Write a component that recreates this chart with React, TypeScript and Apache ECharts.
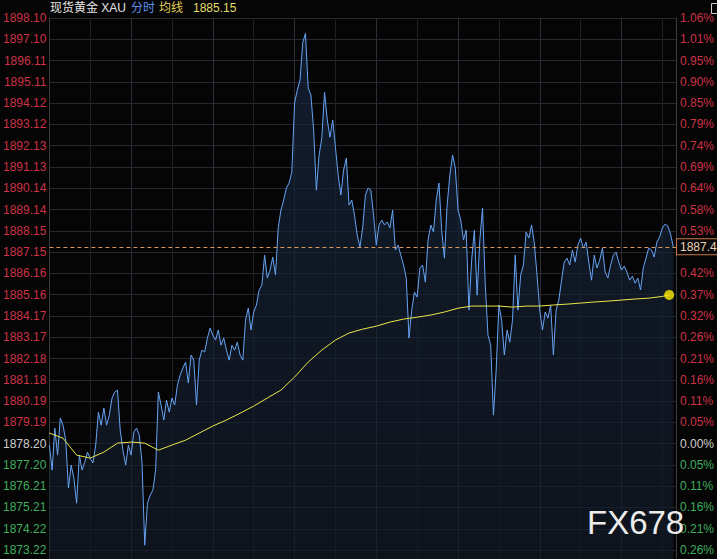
import React, { useEffect, useRef } from "react";
import * as echarts from "echarts";

// ---- tick labels ----
const leftLabels = [
  "1898.10", "1897.10", "1896.11", "1895.11", "1894.12", "1893.12", "1892.13",
  "1891.13", "1890.14", "1889.14", "1888.15", "1887.15", "1886.16", "1885.16",
  "1884.17", "1883.17", "1882.18", "1881.18", "1880.19", "1879.19", "1878.20",
  "1877.20", "1876.21", "1875.21", "1874.22", "1873.22",
];
const rightLabels = [
  "1.06%", "1.01%", "0.95%", "0.90%", "0.85%", "0.79%", "0.74%", "0.69%",
  "0.64%", "0.58%", "0.53%", "0.48%", "0.42%", "0.37%", "0.32%", "0.26%",
  "0.21%", "0.16%", "0.11%", "0.05%", "0.00%", "0.05%", "0.11%", "0.16%",
  "0.21%", "0.26%",
];
const baseIndex = 20; // 1878.20 = previous close
const priceTop = 1898.1;
const priceBottomLabel = 1873.22;

// ---- time axis (minutes from session open) ----
const sessionMinutes = 1380;
const gridMinutes = 90;
const priceStepMinutes = 6;
const avgStepMinutes = 30;
const avgEndMinute = 1365;

// ---- series values ----
const prices = [
  1878.13, 1876.96, 1878.92, 1877.66, 1879.39, 1879.06, 1878.36, 1876.12, 1877.19, 1876.58,
  1875.41, 1877.66, 1876.96, 1877.33, 1877.80, 1877.52, 1877.29, 1878.13, 1879.67, 1879.06,
  1879.86, 1879.06, 1879.53, 1880.33, 1880.61, 1880.70, 1878.83, 1877.89, 1877.19, 1878.13,
  1877.66, 1878.74, 1878.92, 1878.60, 1877.33, 1873.45, 1875.41, 1875.79, 1876.02, 1876.96,
  1880.61, 1880.00, 1879.30, 1880.23, 1879.67, 1880.33, 1880.00, 1880.93, 1881.40, 1881.73,
  1882.01, 1881.03, 1882.34, 1882.10, 1880.00, 1882.10, 1882.57, 1882.48, 1883.13, 1883.60,
  1883.27, 1883.04, 1883.51, 1882.80, 1883.13, 1882.57, 1882.10, 1882.80, 1882.57, 1882.94,
  1882.34, 1882.10, 1883.97, 1884.53, 1883.51, 1884.35, 1884.68, 1885.38, 1885.61, 1887.01,
  1885.94, 1886.31, 1886.92, 1886.08, 1888.28, 1889.12, 1889.59, 1890.15, 1890.38, 1890.90,
  1894.12, 1894.73, 1895.20, 1896.95, 1897.38, 1894.82, 1894.50, 1892.86, 1890.05, 1891.69,
  1892.49, 1894.64, 1893.33, 1892.53, 1893.33, 1892.06, 1890.76, 1889.82, 1890.99, 1891.55,
  1889.35, 1889.59, 1888.88, 1887.95, 1887.39, 1888.28, 1889.82, 1890.15, 1890.05, 1888.88,
  1887.48, 1888.42, 1888.65, 1888.42, 1888.56, 1888.28, 1889.12, 1887.25, 1887.48, 1887.01,
  1886.55, 1885.94, 1883.13, 1884.44, 1885.28, 1885.05, 1886.41, 1886.55, 1885.75, 1887.72,
  1888.42, 1888.09, 1889.59, 1890.38, 1888.18, 1886.87, 1889.35, 1890.76, 1891.69, 1891.08,
  1889.12, 1888.65, 1887.72, 1888.18, 1884.44, 1886.78, 1888.18, 1885.14, 1887.72, 1889.21,
  1885.61, 1883.27, 1882.80, 1879.53, 1881.64, 1884.68, 1883.97, 1882.34, 1883.51, 1882.94,
  1883.97, 1887.01, 1884.44, 1886.08, 1886.55, 1888.09, 1887.81, 1888.42, 1887.57, 1886.08,
  1884.44, 1883.51, 1884.35, 1884.07, 1884.68, 1882.34, 1884.44, 1884.91, 1885.84, 1886.69,
  1886.87, 1886.55, 1887.25, 1886.69, 1887.48, 1887.81, 1887.34, 1887.62, 1886.69, 1885.84,
  1887.01, 1886.41, 1886.78, 1887.34, 1886.22, 1885.94, 1886.55, 1887.01, 1887.15, 1886.69,
  1886.31, 1886.50, 1886.22, 1885.84, 1886.03, 1885.70, 1885.94, 1885.38, 1886.41, 1886.87,
  1887.34, 1887.25, 1886.92, 1887.62, 1887.86, 1888.28, 1888.46, 1888.37, 1888.00, 1887.40,
];
const avgValues = [
  1878.69, 1878.45, 1877.66, 1877.52, 1877.80, 1878.22, 1878.27, 1878.22, 1877.89, 1878.13,
  1878.36, 1878.69, 1879.02, 1879.30, 1879.62, 1879.95, 1880.33, 1880.70, 1881.31, 1882.01,
  1882.57, 1883.04, 1883.37, 1883.55, 1883.69, 1883.88, 1884.02, 1884.11, 1884.21, 1884.35,
  1884.53, 1884.63, 1884.63, 1884.63, 1884.58, 1884.63, 1884.63, 1884.68, 1884.72, 1884.77,
  1884.82, 1884.86, 1884.91, 1884.96, 1885.00, 1885.08, 1885.15,
];
const lastPrice = 1887.4;

const FONT = '"Liberation Sans", Arial, "Noto Sans CJK SC", sans-serif';
const LABEL_AXIS_MAX = 25.42; // grid extends a bit below the last labelled tick

export default function App() {
  const ref = useRef<HTMLDivElement>(null);

  useEffect(() => {
    if (!ref.current) return;
    const chart = echarts.init(ref.current, null, { renderer: "svg" });

    const step = (priceTop - priceBottomLabel) / (leftLabels.length - 1);
    const priceMin = priceTop - step * LABEL_AXIS_MAX;
    // the right-axis tick hidden under the last-price box in the reference
    const coveredIndex = Math.round((priceTop - lastPrice) / step);

    const priceData = prices.map((p, i) => [i * priceStepMinutes, p]);
    const avgData = avgValues.map((v, j) => [
      j === avgValues.length - 1 ? avgEndMinute : j * avgStepMinutes,
      v,
    ]);
    const lastAvg = avgData[avgData.length - 1];

    const fmt = (labels: string[], skip: number) => (v: number) => {
      const i = Math.round(v);
      if (Math.abs(v - i) > 1e-6 || i < 0 || i >= labels.length || i === skip) return "";
      const k = i < baseIndex ? "r" : i === baseIndex ? "w" : "g";
      return `{${k}|${labels[i]}}`;
    };
    const rich = {
      r: { color: "#cc3347", fontSize: 12, fontFamily: FONT },
      w: { color: "#cfcfcf", fontSize: 12, fontFamily: FONT },
      g: { color: "#3fae5f", fontSize: 12, fontFamily: FONT },
    };

    const option: any = {
      animation: false,
      backgroundColor: "#050505",
      grid: { left: 49, right: 41, top: 18, bottom: 0, containLabel: false },
      xAxis: {
        type: "value",
        min: 0,
        max: sessionMinutes,
        interval: gridMinutes,
        axisLabel: { show: false },
        axisTick: { show: false },
        axisLine: { show: false },
        splitLine: { show: true, lineStyle: { color: ["#2c3036", "#1d2025"], width: 1 } },
      },
      yAxis: [
        {
          type: "value",
          min: 0,
          max: LABEL_AXIS_MAX,
          interval: 1,
          inverse: true,
          position: "left",
          axisLine: { show: true, lineStyle: { color: "#3a3c40" } },
          axisTick: { show: false },
          splitLine: { show: true, lineStyle: { color: "#262a30", width: 1 } },
          axisLabel: { margin: 3, fontSize: 12, fontFamily: FONT, formatter: fmt(leftLabels, -1), rich },
        },
        {
          type: "value",
          min: 0,
          max: LABEL_AXIS_MAX,
          interval: 1,
          inverse: true,
          position: "right",
          axisLine: { show: true, lineStyle: { color: "#3a3c40" } },
          axisTick: { show: false },
          splitLine: { show: false },
          axisLabel: { margin: 4, fontSize: 12, fontFamily: FONT, formatter: fmt(rightLabels, coveredIndex), rich },
        },
        {
          type: "value",
          min: priceMin,
          max: priceTop,
          show: false,
          splitLine: { show: false },
        },
      ],
      series: [
        {
          type: "line",
          yAxisIndex: 2,
          data: priceData,
          symbol: "none",
          showSymbol: false,
          lineStyle: { color: "#66a3f4", width: 1 },
          areaStyle: {
            origin: "start",
            color: new echarts.graphic.LinearGradient(0, 0, 0, 1, [
              { offset: 0, color: "#16253d" },
              { offset: 1, color: "#121a26" },
            ]),
          },
          z: 3,
          markLine: {
            silent: true,
            symbol: ["none", "none"],
            data: [{ yAxis: lastPrice }],
            lineStyle: { color: "#d8955c", type: [4, 3], width: 1, opacity: 1 },
            label: {
              show: true,
              position: "end",
              distance: 1,
              formatter: String(lastPrice),
              color: "#e8d2b8",
              fontSize: 12,
              fontFamily: FONT,
              backgroundColor: "#0a0908",
              borderColor: "#c9794a",
              borderWidth: 1,
              padding: [2, 4, 1, 3],
            },
          },
        },
        {
          type: "line",
          yAxisIndex: 2,
          data: avgData,
          symbol: "none",
          showSymbol: false,
          lineStyle: { color: "#eae64c", width: 1 },
          z: 4,
        },
        {
          type: "scatter",
          yAxisIndex: 2,
          data: [lastAvg],
          symbolSize: 10,
          itemStyle: { color: "#ffec00" },
          z: 5,
        },
      ],
      graphic: [
        { type: "text", left: 50, top: 2, z: 50, style: { text: "现货黄金 XAU", fill: "#e6e6e6", font: `12px ${FONT}` } },
        { type: "text", left: 131, top: 2, z: 50, style: { text: "分时", fill: "#5b8fe8", font: `12px ${FONT}` } },
        { type: "text", left: 159, top: 2, z: 50, style: { text: "均线", fill: "#e3cf55", font: `12px ${FONT}` } },
        {
          type: "text", left: 193, top: 2, z: 50,
          style: { text: lastAvg[1].toFixed(2), fill: "#e6dc6e", font: `12px ${FONT}` },
        },
        {
          type: "rect", left: 709, top: 1, z: 50,
          shape: { width: 7, height: 10 },
          style: { fill: "none", stroke: "#cfcfcf", lineWidth: 1 },
        },
        {
          type: "text", left: 587, top: 506, z: 100,
          style: { text: "FX678", fill: "#ececec", font: `33px ${FONT}` },
        },
      ],
    };

    chart.setOption(option);
    return () => chart.dispose();
  }, []);

  return (
    <div
      ref={ref}
      style={{ position: "fixed", left: 0, top: 0, width: 717, height: 559, background: "#050505" }}
    />
  );
}
